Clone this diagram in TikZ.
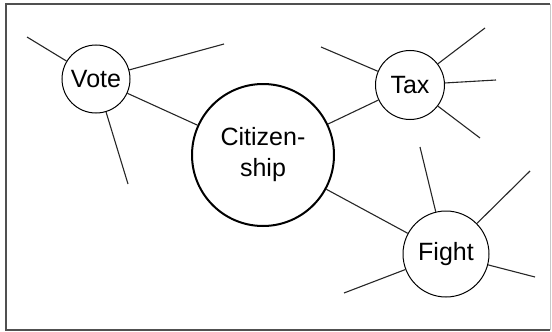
\documentclass[tikz,border=0pt]{standalone}
\usepackage{fontspec}
\setmainfont{Liberation Sans}
\usetikzlibrary{positioning}
\definecolor{FrameGray}{RGB}{80,80,80}
\definecolor{EdgeGray}{RGB}{200,200,200}

\begin{document}
\begin{tikzpicture}[
  x=1pt, y=-1pt,
  topic/.style={circle, draw=black, line width=1pt, inner sep=0pt, font=\fontsize{25}{30}\selectfont, align=center},
  hub/.style={topic, line width=2pt, font=\fontsize{25}{31}\selectfont},
  spoke/.style={line width=1.1pt, draw=black!85}
]
\useasboundingbox (0,0) rectangle (552,332);
\draw[line width=2pt, draw=FrameGray] (550,4) -- (6,4) -- (6,330) -- (550,330);
\draw[line width=1pt, draw=EdgeGray] (550,4) -- (550,330);

\node[hub, minimum size=142pt] (cit) at (263,155) {Citizen-\\ship};
\node[topic, minimum size=68pt] (vote) at (96,79) {Vote};
\node[topic, minimum size=69pt] (tax) at (410,85) {Tax};
\node[topic, minimum size=86pt] (fight) at (446,254) {Fight};

% free ends of the spokes
\coordinate (v1) at (27,37);
\coordinate (v2) at (224,44);
\coordinate (v3) at (128,184);
\coordinate (t1) at (321,47);
\coordinate (t2) at (485,28);
\coordinate (t3) at (496,80);
\coordinate (t4) at (480,138);
\coordinate (f1) at (420,147);
\coordinate (f2) at (530,171);
\coordinate (f3) at (535,277);
\coordinate (f4) at (344,293);

\draw[spoke] (vote) -- (cit);
\draw[spoke] (tax) -- (cit);
\draw[spoke] (fight) -- (cit);
\foreach \e in {v1,v2,v3} \draw[spoke] (vote) -- (\e);
\foreach \e in {t1,t2,t3,t4} \draw[spoke] (tax) -- (\e);
\foreach \e in {f1,f2,f3,f4} \draw[spoke] (fight) -- (\e);
\end{tikzpicture}
\end{document}
